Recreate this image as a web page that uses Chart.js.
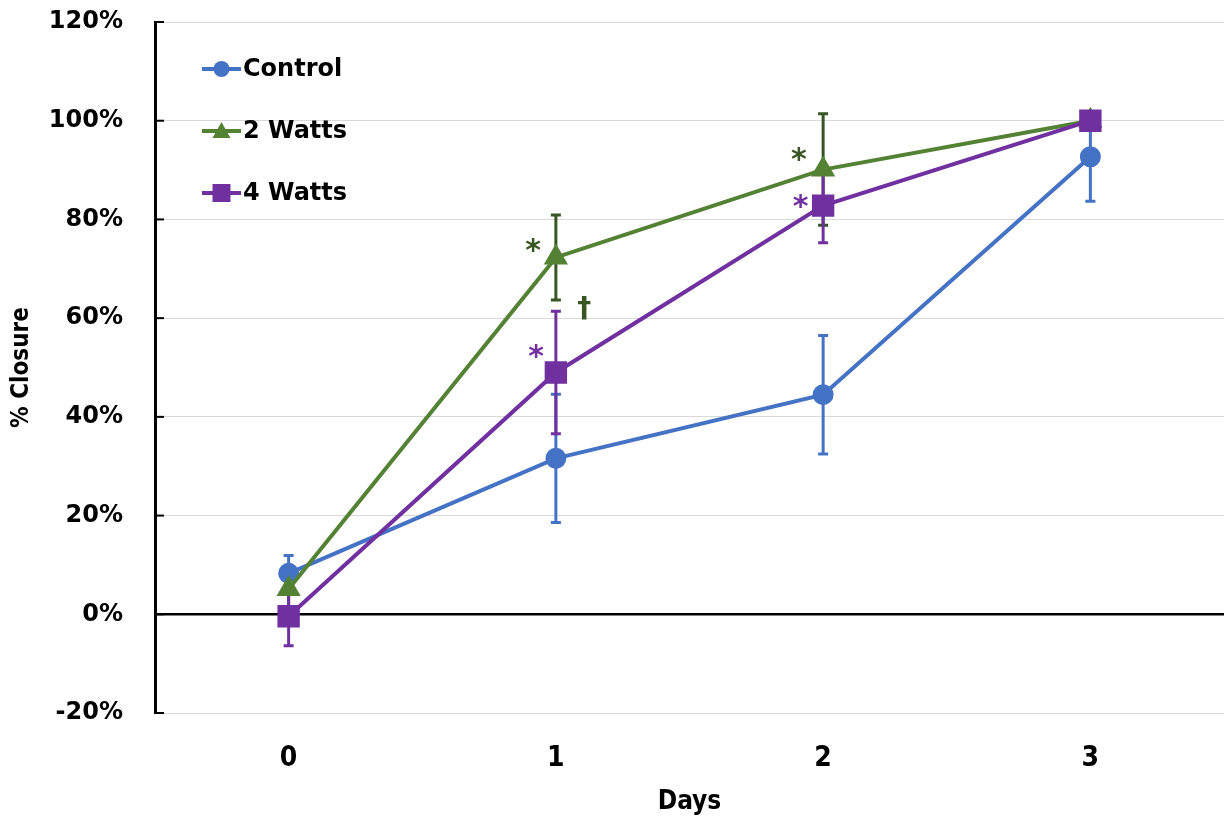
<!DOCTYPE html>
<html>
<head>
<meta charset="utf-8">
<script src="https://cdn.jsdelivr.net/npm/chart.js@4.4.0/dist/chart.umd.min.js"></script>
<style>
html,body{margin:0;padding:0;background:#fff;}
#wrap{width:1225px;height:824px;}
</style>
</head>
<body>
<div id="wrap"><canvas id="c" width="1225" height="824"></canvas></div>
<script>
const days = ['0', '1', '2', '3'];
const control = [8.3, 31.6, 44.5, 92.7];
const controlErr = [3.6, 13.0, 12.0, 9.0];
const watts2 = [5.1, 72.3, 90.1, 100];
const watts2Err = [4.0, 8.6, 11.3, 0];
const watts4 = [-0.4, 49.0, 82.8, 100];
const watts4Err = [6.0, 12.4, 7.5, 0];
const yTicks = [-20, 0, 20, 40, 60, 80, 100, 120];
const seriesNames = ['Control', '2 Watts', '4 Watts'];
// significance marks: text, day position (fractional), value
const marks = [
  {t: '*', x: 0.915, y: 74.5, c: '#375623'},
  {t: '*', x: 1.909, y: 93.1, c: '#375623'},
  {t: '*', x: 0.926, y: 53.2, c: '#7030A0'},
  {t: '*', x: 1.916, y: 83.4, c: '#7030A0'},
  {t: '†', x: 1.106, y: 62.1, c: '#375623'}
];

const WIDE = '"DejaVu Sans", Verdana, sans-serif';
const NARROW = '"Liberation Sans Narrow", "DejaVu Sans Condensed", "Liberation Sans", sans-serif';
const BLUE = '#4472C4', GREEN = '#548235', DKGREEN = '#375623', PURPLE = '#7030A0';

const errorBars = {
  id: 'errorBars',
  beforeDatasetsDraw(chart) {
    const {ctx, scales: {x, y}} = chart;
    const sets = [[control, controlErr, BLUE], [watts2, watts2Err, DKGREEN], [watts4, watts4Err, PURPLE]];
    ctx.save();
    ctx.lineWidth = 3;
    sets.forEach(([vals, errs, col]) => {
      ctx.strokeStyle = col;
      vals.forEach((v, i) => {
        if (!errs[i]) return;
        const px = x.getPixelForValue(i);
        const t = y.getPixelForValue(v + errs[i]);
        const b = y.getPixelForValue(v - errs[i]);
        ctx.beginPath();
        ctx.moveTo(px, t); ctx.lineTo(px, b);
        ctx.moveTo(px - 5, t); ctx.lineTo(px + 5, t);
        ctx.moveTo(px - 5, b); ctx.lineTo(px + 5, b);
        ctx.stroke();
      });
    });
    ctx.restore();
  }
};

const extras = {
  id: 'extras',
  afterDraw(chart) {
    const {ctx, chartArea, scales: {x, y}} = chart;
    ctx.save();
    // inward ticks on y axis
    ctx.strokeStyle = '#000';
    ctx.lineWidth = 2;
    yTicks.forEach(v => {
      const py = y.getPixelForValue(v);
      ctx.beginPath();
      ctx.moveTo(chartArea.left, py);
      ctx.lineTo(chartArea.left + 9, py);
      ctx.stroke();
    });
    // significance marks
    marks.forEach(m => {
      const px = x.getPixelForValue(m.x);
      const py = y.getPixelForValue(m.y);
      ctx.fillStyle = m.c;
      ctx.textAlign = 'center';
      ctx.textBaseline = 'middle';
      ctx.font = (m.t === '*' ? 'bold 30px ' : 'bold 28px ') + WIDE;
      ctx.fillText(m.t, px, py + (m.t === '*' ? 6 : 2));
    });
    // legend
    const ds = chart.data.datasets;
    [0, 1, 2].forEach((k, idx) => {
      const d = ds[k];
      const cy = chartArea.top + 47 + idx * 62;
      const x0 = chartArea.left + 47, x1 = chartArea.left + 86, cx = (x0 + x1) / 2;
      ctx.strokeStyle = d.borderColor;
      ctx.lineWidth = 4;
      ctx.beginPath(); ctx.moveTo(x0, cy); ctx.lineTo(x1, cy); ctx.stroke();
      ctx.fillStyle = d.backgroundColor;
      ctx.beginPath();
      if (d.pointStyle === 'circle') {
        ctx.arc(cx, cy, 8, 0, Math.PI * 2);
      } else if (d.pointStyle === 'triangle') {
        ctx.moveTo(cx, cy - 9); ctx.lineTo(cx + 9, cy + 7); ctx.lineTo(cx - 9, cy + 7); ctx.closePath();
      } else {
        ctx.rect(cx - 9, cy - 9, 18, 18);
      }
      ctx.fill();
      ctx.fillStyle = '#000';
      ctx.font = 'bold 24px ' + WIDE;
      ctx.textAlign = 'left';
      ctx.textBaseline = 'middle';
      ctx.fillText(d.label, x1 + 2, cy + 1);
    });
    ctx.restore();
  }
};

new Chart(document.getElementById('c'), {
  type: 'line',
  data: {
    labels: days,
    datasets: [
      {label: seriesNames[0], data: control, borderColor: BLUE, backgroundColor: BLUE, pointStyle: 'circle', pointRadius: 8.5, borderWidth: 4, order: 3},
      {label: seriesNames[1], data: watts2, borderColor: GREEN, backgroundColor: GREEN, pointStyle: 'triangle', pointRadius: 10, borderWidth: 4, order: 2},
      {label: seriesNames[2], data: watts4, borderColor: PURPLE, backgroundColor: PURPLE, pointStyle: 'rect', pointRadius: 13, borderWidth: 4, order: 1}
    ]
  },
  options: {
    responsive: false,
    maintainAspectRatio: false,
    animation: false,
    layout: {autoPadding: false, padding: {top: 22, right: 1, left: 0, bottom: 0}},
    plugins: {legend: {display: false}, title: {display: false}, tooltip: {enabled: false}},
    elements: {line: {tension: 0}, point: {borderWidth: 0}},
    scales: {
      x: {
        type: 'category',
        offset: true,
        grid: {display: false, drawTicks: false},
        border: {display: false},
        ticks: {color: '#000', font: {family: NARROW, size: 28, weight: 'bold'}, padding: 29},
        title: {display: true, text: 'Days', color: '#000', font: {family: NARROW, size: 26, weight: 'bold'}, padding: {top: 0, bottom: 6}},
        afterFit(s) { s.height = 111; s.paddingLeft = 0; s.paddingRight = 0; }
      },
      y: {
        min: -20, max: 120,
        afterBuildTicks(s) { s.ticks = yTicks.map(v => ({value: v})); },
        grid: {
          color: c => c.tick && c.tick.value === 0 ? '#000' : '#d9d9d9',
          lineWidth: c => c.tick && c.tick.value === 0 ? 2.5 : 1,
          drawTicks: false
        },
        border: {display: true, color: '#000', width: 3},
        ticks: {color: '#000', font: {family: WIDE, size: 24, weight: 'bold'}, padding: 32, callback: v => v + '%'},
        title: {display: true, text: '% Closure', color: '#000', font: {family: NARROW, size: 24, weight: 'bold'}, padding: {top: 7, bottom: 0}},
        afterFit(s) { s.width = 155; s.paddingTop = 0; s.paddingBottom = 0; }
      }
    }
  },
  plugins: [errorBars, extras]
});
</script>
</body>
</html>
